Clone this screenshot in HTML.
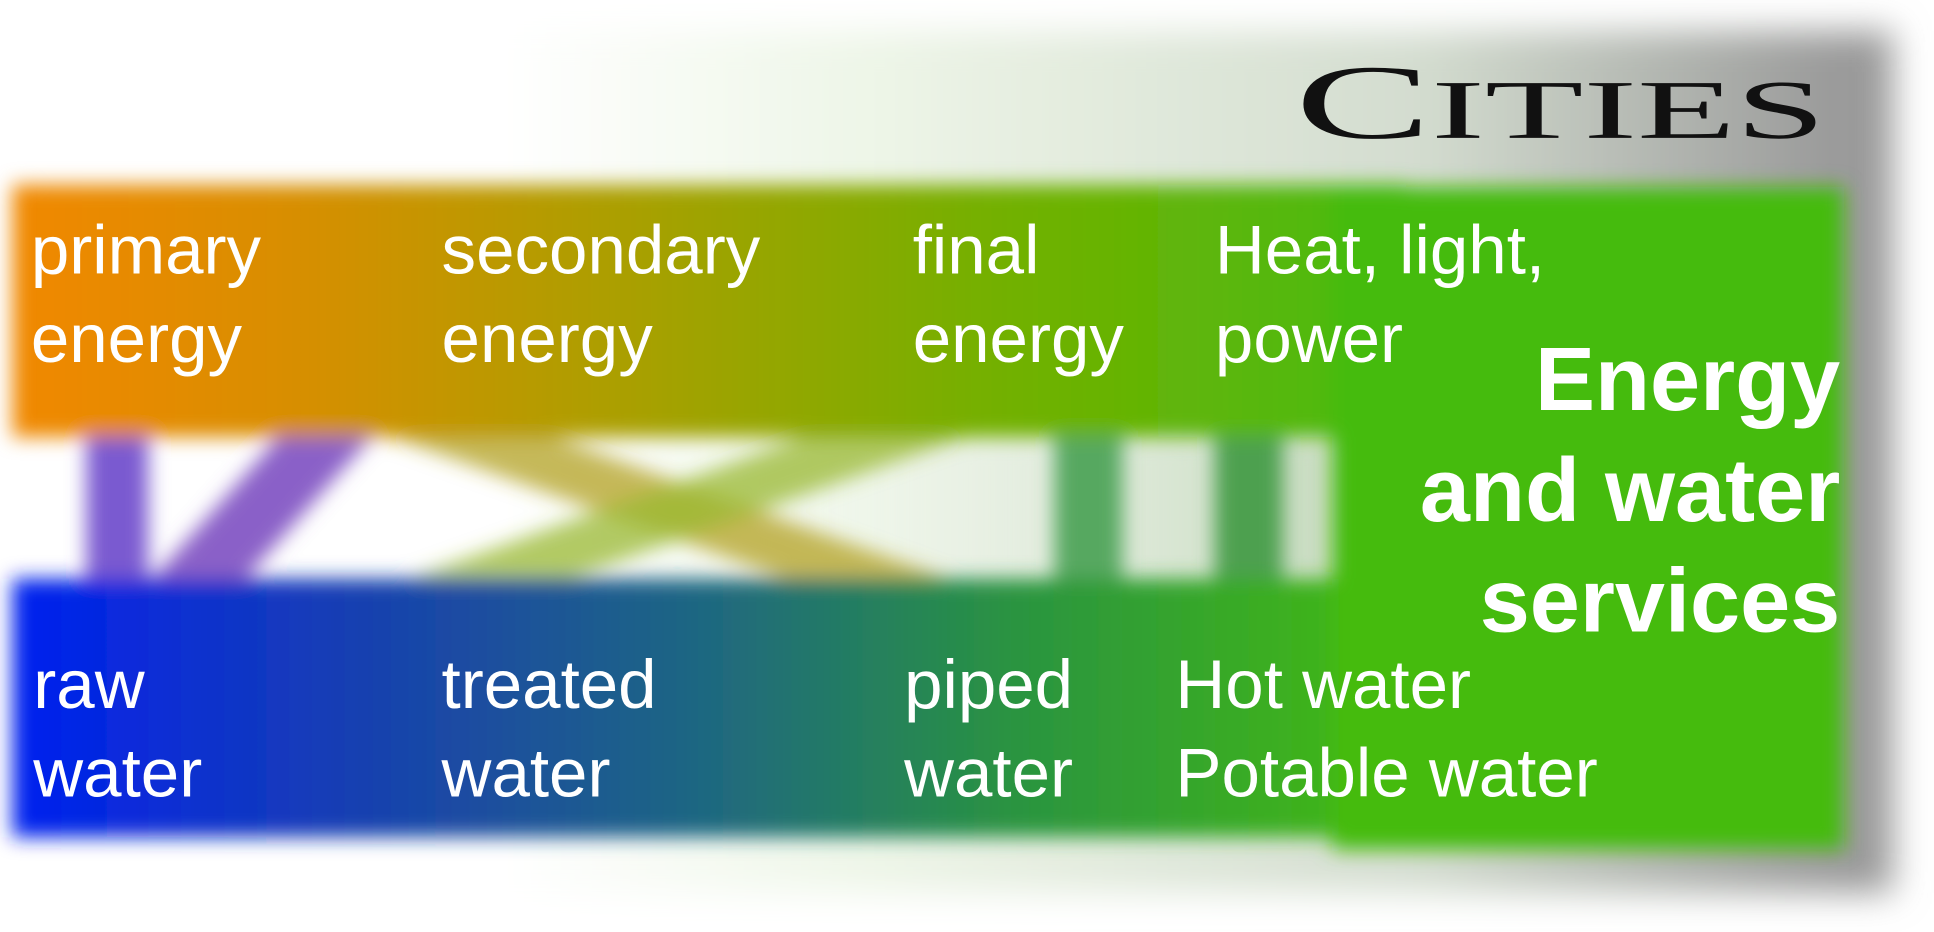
<!DOCTYPE html>
<html><head><meta charset="utf-8"><style>
html,body{margin:0;padding:0;width:1934px;height:932px;overflow:hidden;background:#fff}
#s{position:absolute;left:0;top:0;width:1568px;height:757px;transform-origin:0 0;transform:scale(1.2334,1.2312)}
.t{position:absolute;color:#fff;font-family:"Liberation Sans",sans-serif;font-size:56px;line-height:72px;white-space:nowrap;transform-origin:0 0;transform:scaleX(1.0)}
.b{position:absolute;color:#fff;font-family:"Liberation Sans",sans-serif;font-weight:bold;font-size:73px;line-height:90px;text-align:right;right:76px;top:264px;white-space:nowrap}
</style></head><body><div id="s">
<svg width="1568" height="757" style="position:absolute;left:0;top:0">
<defs>
<linearGradient id="bg" x1="0" x2="1" y1="0" y2="0">
<stop offset="0.26" stop-color="#fff"/><stop offset="0.45" stop-color="#eef6e8"/><stop offset="0.75" stop-color="#d3dccf"/><stop offset="0.97" stop-color="#9a9a9a"/></linearGradient>
<linearGradient id="top" x1="0" x2="1"><stop offset="0" stop-color="#f18800"/><stop offset="0.2" stop-color="#d88e00"/><stop offset="0.45" stop-color="#a8a000"/><stop offset="0.7" stop-color="#74b000"/><stop offset="1" stop-color="#48bb10"/></linearGradient>
<linearGradient id="bot" x1="0" x2="1"><stop offset="0" stop-color="#0020f0"/><stop offset="0.25" stop-color="#1840b0"/><stop offset="0.5" stop-color="#1f6880"/><stop offset="0.72" stop-color="#2a9440"/><stop offset="1" stop-color="#44bb12"/></linearGradient>
<linearGradient id="mid" x1="0" x2="1"><stop offset="0.35" stop-color="#fff" stop-opacity="0"/><stop offset="1" stop-color="#c8dcc0"/></linearGradient>
<filter id="f"><feGaussianBlur stdDeviation="8"/></filter>
<filter id="f2"><feGaussianBlur stdDeviation="14"/></filter>
</defs>
<rect x="10" y="25" width="1525" height="700" fill="url(#bg)" filter="url(#f2)"/>
<rect x="300" y="360" width="780" height="110" fill="url(#mid)" filter="url(#f)"/>
<g filter="url(#f)">
<polygon points="70,345 120,345 120,480 70,480" fill="#7a5ad0"/>
<polygon points="235,345 310,345 190,480 115,480" fill="#8a60c8"/>
<polygon points="290,345 420,345 810,485 680,485" fill="#b8a830" opacity="0.8"/>
<polygon points="680,345 810,345 420,485 290,485" fill="#9ab830" opacity="0.75"/>
<rect x="855" y="345" width="55" height="135" fill="#56a860"/>
<rect x="985" y="345" width="55" height="135" fill="#4ea050"/>
<rect x="10" y="150" width="1130" height="205" fill="url(#top)"/>
<rect x="10" y="470" width="1130" height="210" fill="url(#bot)"/>
<rect x="1080" y="152" width="415" height="538" fill="#44bb11"/>
</g>
<text x="1050" y="112" font-family="Liberation Serif,serif" font-size="86" fill="#111" textLength="430" lengthAdjust="spacingAndGlyphs">C<tspan font-size="68">ITIES</tspan></text>
</svg>
<div class="t" style="left:25px;top:167px">primary<br>energy</div>
<div class="t" style="left:358px;top:167px">secondary<br>energy</div>
<div class="t" style="left:740px;top:167px">final<br>energy</div>
<div class="t" style="left:985px;top:167px">Heat, light,<br>power</div>
<div class="t" style="left:27px;top:520px">raw<br>water</div>
<div class="t" style="left:358px;top:520px">treated<br>water</div>
<div class="t" style="left:733px;top:520px">piped<br>water</div>
<div class="t" style="left:953px;top:520px">Hot water<br>Potable water</div>
<div class="b">Energy<br>and water<br>services</div>
</div></body></html>
